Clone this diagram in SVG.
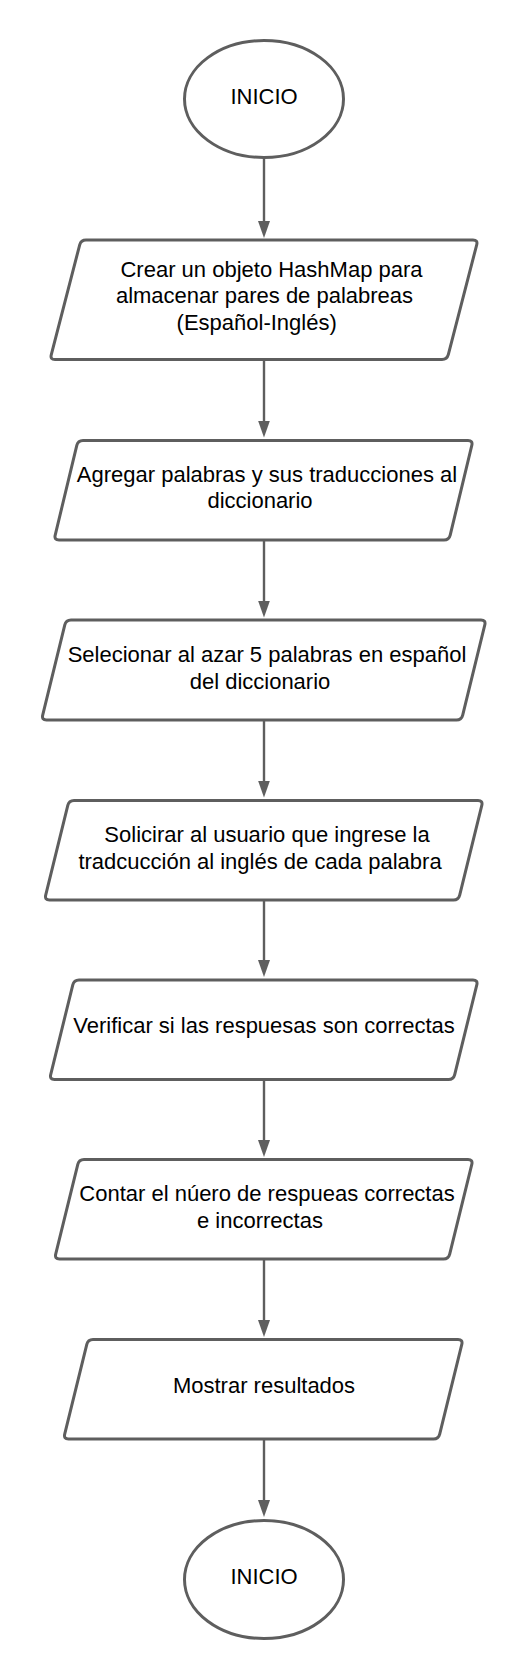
<svg xmlns="http://www.w3.org/2000/svg" width="528" height="1680" viewBox="0 0 528 1680">
<defs>
<style>
.shape{fill:#ffffff;stroke:#5e5e5e;stroke-width:3}
.conn{fill:none;stroke:#5e5e5e;stroke-width:2.4}
.lbl{font-family:"Liberation Sans",Arial,Helvetica,sans-serif;font-size:22px;fill:#000000;text-anchor:middle}
</style>
<marker id="arrow" markerUnits="userSpaceOnUse" viewBox="0 0 17 12" refX="1" refY="6" markerWidth="17" markerHeight="12" orient="auto">
<path d="M0,0 L17,6 L0,12 Z" fill="#5e5e5e"/>
</marker>
</defs>
<rect x="0" y="0" width="528" height="1680" fill="#ffffff"/>

<g id="connectors">
<line class="conn" x1="264" y1="158" x2="264" y2="222" marker-end="url(#arrow)"/>
<line class="conn" x1="264" y1="359.5" x2="264" y2="421.5" marker-end="url(#arrow)"/>
<line class="conn" x1="264" y1="540" x2="264" y2="601.5" marker-end="url(#arrow)"/>
<line class="conn" x1="264" y1="720" x2="264" y2="781.5" marker-end="url(#arrow)"/>
<line class="conn" x1="264" y1="900" x2="264" y2="961" marker-end="url(#arrow)"/>
<line class="conn" x1="264" y1="1079.5" x2="264" y2="1141" marker-end="url(#arrow)"/>
<line class="conn" x1="264" y1="1259" x2="264" y2="1321" marker-end="url(#arrow)"/>
<line class="conn" x1="264" y1="1439" x2="264" y2="1501" marker-end="url(#arrow)"/>
</g>

<g id="start">
<ellipse class="shape" cx="264" cy="99" rx="79.5" ry="58.5"/>
<text class="lbl" x="264" y="104">INICIO</text>
</g>

<g id="step1">
<path class="shape" d="M86,240 L473,240 Q478,240 476.7,244.8 L448.3,354.7 Q447,359.5 442,359.5 L55,359.5 Q50,359.5 51.3,354.7 L79.7,244.8 Q81,240 86,240 Z"/>
<text class="lbl" x="271.5" y="277">Crear un objeto HashMap para</text>
<text class="lbl" x="264.5" y="303.3">almacenar pares de palabreas</text>
<text class="lbl" x="256.7" y="329.5">(Español-Inglés)</text>
</g>

<g id="step2">
<path class="shape" d="M83,440.5 L468,440.5 Q473,440.5 471.8,445.4 L450.2,535.1 Q449,540 444,540 L59,540 Q54,540 55.2,535.1 L76.8,445.4 Q78,440.5 83,440.5 Z"/>
<text class="lbl" x="267" y="481.7">Agregar palabras y sus traducciones al</text>
<text class="lbl" x="260" y="508.3">diccionario</text>
</g>

<g id="step3">
<path class="shape" d="M71,620 L481,620 Q486,620 484.8,624.9 L462.7,715.1 Q461.5,720 456.5,720 L46.5,720 Q41.5,720 42.7,715.1 L64.8,624.9 Q66,620 71,620 Z"/>
<text class="lbl" x="267" y="662.2">Selecionar al azar 5 palabras en español</text>
<text class="lbl" x="260" y="688.8">del diccionario</text>
</g>

<g id="step4">
<path class="shape" d="M74,800.5 L478,800.5 Q483,800.5 481.8,805.4 L459.7,895.1 Q458.5,900 453.5,900 L49.5,900 Q44.5,900 45.7,895.1 L67.8,805.4 Q69,800.5 74,800.5 Z"/>
<text class="lbl" x="267" y="842">Solicirar al usuario que ingrese la</text>
<text class="lbl" x="260" y="868.6">tradcucción al inglés de cada palabra</text>
</g>

<g id="step5">
<path class="shape" d="M79,980 L473,980 Q478,980 476.8,984.9 L454.7,1074.6 Q453.5,1079.5 448.5,1079.5 L54.5,1079.5 Q49.5,1079.5 50.7,1074.6 L72.8,984.9 Q74,980 79,980 Z"/>
<text class="lbl" x="264" y="1033.3">Verificar si las respuesas son correctas</text>
</g>

<g id="step6">
<path class="shape" d="M84,1159.5 L468,1159.5 Q473,1159.5 471.8,1164.4 L449.7,1254.1 Q448.5,1259 443.5,1259 L59.5,1259 Q54.5,1259 55.7,1254.1 L77.8,1164.4 Q79,1159.5 84,1159.5 Z"/>
<text class="lbl" x="267" y="1201.2">Contar el núero de respueas correctas</text>
<text class="lbl" x="260" y="1227.8">e incorrectas</text>
</g>

<g id="step7">
<path class="shape" d="M93,1339.5 L458,1339.5 Q463,1339.5 461.8,1344.4 L439.7,1434.1 Q438.5,1439 433.5,1439 L68.5,1439 Q63.5,1439 64.7,1434.1 L86.8,1344.4 Q88,1339.5 93,1339.5 Z"/>
<text class="lbl" x="264" y="1393">Mostrar resultados</text>
</g>

<g id="end">
<ellipse class="shape" cx="264" cy="1579.5" rx="79.5" ry="59"/>
<text class="lbl" x="264" y="1584">INICIO</text>
</g>
</svg>
